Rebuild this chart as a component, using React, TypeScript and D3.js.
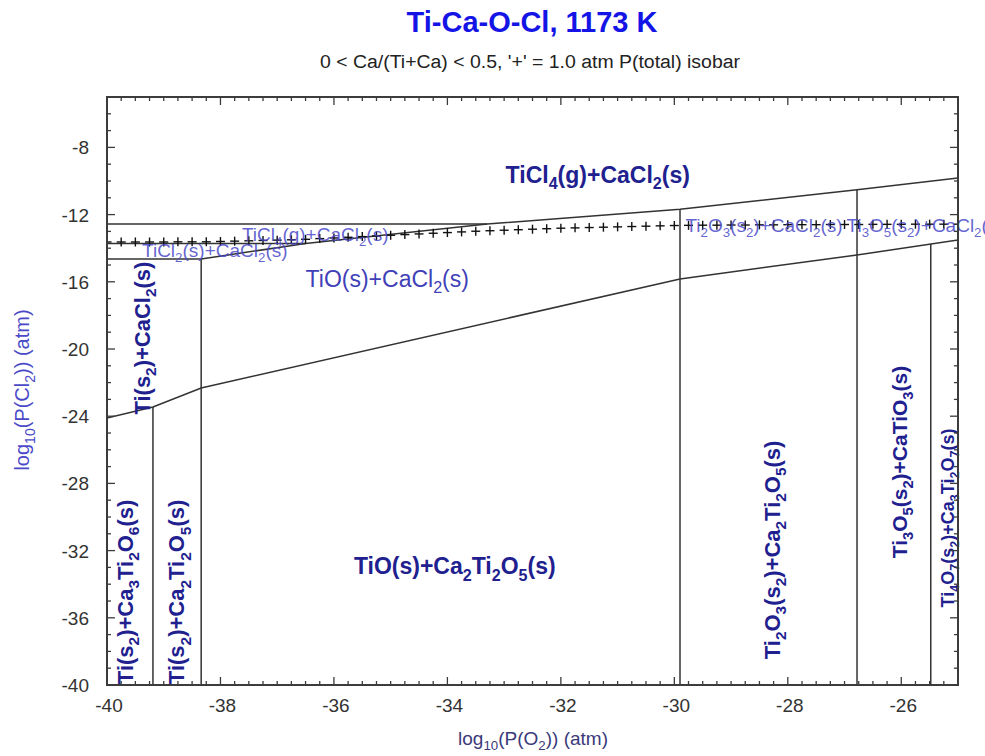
import React, { useEffect, useRef } from "react";
import * as d3 from "d3";

// axis ranges (log10 atm)
const X_RANGE = [-40, -25];
const Y_RANGE = [-40, -5];
const X_MAJOR = [-40, -38, -36, -34, -32, -30, -28, -26];
const Y_MAJOR = [-40, -36, -32, -28, -24, -20, -16, -12, -8];

// phase boundaries, [log P(O2), log P(Cl2)]
const topBoundary = [[-40, -12.56], [-33.3, -12.56], [-29.9, -11.68], [-26.78, -10.52], [-25, -9.82]];
const ticl2Ticl3 = [[-40, -13.72], [-36.5, -13.72]];
const tiTicl2 = [[-40, -14.64], [-38.34, -14.64]];
const chlorideSlope = [[-38.34, -14.64], [-36.5, -13.72], [-33.3, -12.56]];
const oxideBoundary = [[-40, -24.11], [-39.19, -23.45], [-38.34, -22.32], [-29.9, -15.83], [-26.78, -14.4], [-25, -13.51]];
const verticals = [
  [[-39.19, -23.45], [-39.19, -40]],
  [[-38.34, -14.64], [-38.34, -40]],
  [[-29.9, -11.68], [-29.9, -40]],
  [[-26.78, -10.52], [-26.78, -40]],
  [[-25.48, -13.75], [-25.48, -40]],
];

// '+' = 1.0 atm P(total) isobar
const isobar = [
  [-40, -13.63], [-39.75, -13.63], [-39.5, -13.63], [-39.25, -13.63], [-39, -13.63], [-38.75, -13.62], [-38.5, -13.62], [-38.25, -13.62],
  [-38, -13.6], [-37.75, -13.58], [-37.5, -13.56], [-37.25, -13.54], [-37, -13.52], [-36.75, -13.5], [-36.5, -13.47], [-36.25, -13.43],
  [-36, -13.39], [-35.75, -13.35], [-35.5, -13.31], [-35.25, -13.27], [-35, -13.23], [-34.75, -13.19], [-34.5, -13.15], [-34.25, -13.11],
  [-34, -13.07], [-33.75, -13.03], [-33.5, -12.99], [-33.25, -12.96], [-33, -12.93], [-32.75, -12.9], [-32.5, -12.87], [-32.25, -12.84],
  [-32, -12.81], [-31.75, -12.79], [-31.5, -12.77], [-31.25, -12.75], [-31, -12.73], [-30.75, -12.71], [-30.5, -12.69], [-30.25, -12.67],
  [-30, -12.65], [-29.75, -12.64], [-29.5, -12.63], [-29.25, -12.63], [-29, -12.62], [-28.75, -12.62], [-28.5, -12.61], [-28.25, -12.61],
  [-28, -12.6], [-27.75, -12.6], [-27.5, -12.6], [-27.25, -12.59], [-27, -12.59], [-26.75, -12.59], [-26.5, -12.58], [-26.25, -12.58],
  [-26, -12.58], [-25.75, -12.57], [-25.5, -12.57], [-25.25, -12.57], [-25, -12.57],
];

// region labels: text ({} = subscript), anchor point, kind
const regionLabels = [
  { text: "TiCl{4}(g)+CaCl{2}(s)", x: -31.35, y: -9.64, kind: "big" },
  { text: "TiCl{4}(g)+CaCl{2}(s)", x: -36.33, y: -13.15, kind: "small" },
  { text: "TiCl{2}(s)+CaCl{2}(s)", x: -38.1, y: -14.11, kind: "small" },
  { text: "TiO(s)+CaCl{2}(s)", x: -35.06, y: -15.83, kind: "mid" },
  { text: "Ti{2}O{3}(s{2})+CaCl{2}(s)", x: -28.42, y: -12.62, kind: "small" },
  { text: "Ti{3}O{5}(s{2})+CaCl{2}(s)", x: -25.58, y: -12.62, kind: "small" },
  { text: "TiO(s)+Ca{2}Ti{2}O{5}(s)", x: -33.87, y: -32.92, kind: "big" },
  { text: "Ti(s{2})+CaCl{2}(s)", x: -39.38, y: -19.35, kind: "vert" },
  { text: "Ti(s{2})+Ca{3}Ti{2}O{6}(s)", x: -39.68, y: -34.46, kind: "vert" },
  { text: "Ti(s{2})+Ca{2}Ti{2}O{5}(s)", x: -38.77, y: -34.46, kind: "vert" },
  { text: "Ti{2}O{3}(s{2})+Ca{2}Ti{2}O{5}(s)", x: -28.28, y: -31.96, kind: "vert" },
  { text: "Ti{3}O{5}(s{2})+CaTiO{3}(s)", x: -26.02, y: -26.73, kind: "vertMid" },
  { text: "Ti{4}O{7}(s{2})+Ca{3}Ti{2}O{7}(s)", x: -25.19, y: -30.06, kind: "vertSmall" },
];

const FONT = "'Liberation Sans', Arial, sans-serif";

const richText = (sel, str, fs) => {
  const parts = str.split(/(\{[^}]*\})/).filter((p) => p.length);
  let inSub = false;
  parts.forEach((p) => {
    if (p.startsWith("{")) {
      sel.append("tspan").attr("font-size", fs * 0.7).attr("dy", fs * 0.28).text(p.slice(1, -1));
      inSub = true;
    } else {
      sel.append("tspan").attr("font-size", fs).attr("dy", inSub ? -fs * 0.28 : 0).text(p);
      inSub = false;
    }
  });
};

const App = () => {
  const svgRef = useRef(null);

  useEffect(() => {
    const width = 985;
    const height = 756;
    const m = { left: 107, right: 958, top: 97, bottom: 685 };

    const svg = d3.select(svgRef.current);
    svg.selectAll("*").remove();
    svg.attr("width", width).attr("height", height);

    const x = d3.scaleLinear().domain(X_RANGE).range([m.left, m.right]);
    const y = d3.scaleLinear().domain(Y_RANGE).range([m.bottom, m.top]);

    svg.append("rect").attr("width", width).attr("height", height).attr("fill", "#fff");

    svg
      .append("clipPath")
      .attr("id", "plot-clip")
      .append("rect")
      .attr("x", m.left)
      .attr("y", m.top)
      .attr("width", m.right - m.left)
      .attr("height", m.bottom - m.top);

    const plot = svg.append("g").attr("clip-path", "url(#plot-clip)");

    const line = d3
      .line()
      .x((d) => x(d[0]))
      .y((d) => y(d[1]));

    const boundaries = [topBoundary, ticl2Ticl3, tiTicl2, chlorideSlope, oxideBoundary, ...verticals];
    plot
      .selectAll("path.boundary")
      .data(boundaries)
      .join("path")
      .attr("class", "boundary")
      .attr("d", line)
      .attr("fill", "none")
      .attr("stroke", "#333")
      .attr("stroke-width", 1.5);

    // isobar crosses
    const cross = plot
      .selectAll("g.cross")
      .data(isobar)
      .join("g")
      .attr("class", "cross")
      .attr("transform", (d) => `translate(${x(d[0])},${y(d[1])})`);
    cross.append("line").attr("x1", -4.5).attr("x2", 4.5).attr("stroke", "#111").attr("stroke-width", 1.4);
    cross.append("line").attr("y1", -4.5).attr("y2", 4.5).attr("stroke", "#111").attr("stroke-width", 1.4);

    // region labels
    const labelStyles = {
      big: { fs: 23, weight: "bold", color: "#20208f", opacity: 1 },
      mid: { fs: 23, weight: "normal", color: "#4040b8", opacity: 1 },
      small: { fs: 19, weight: "normal", color: "#4848c8", opacity: 0.85 },
      vert: { fs: 22, weight: "bold", color: "#20208f", opacity: 1 },
      vertMid: { fs: 21, weight: "bold", color: "#20208f", opacity: 1 },
      vertSmall: { fs: 18, weight: "bold", color: "#20208f", opacity: 1 },
    };
    regionLabels.forEach((d) => {
      const st = labelStyles[d.kind];
      const rotate = d.kind.startsWith("vert") ? " rotate(-90)" : "";
      const t = svg
        .append("text")
        .attr("transform", `translate(${x(d.x)},${y(d.y)})${rotate}`)
        .attr("y", st.fs * 0.35)
        .attr("text-anchor", "middle")
        .attr("font-family", FONT)
        .attr("font-weight", st.weight)
        .attr("fill", st.color)
        .attr("fill-opacity", st.opacity);
      richText(t, d.text, st.fs);
    });

    // frame
    svg
      .append("rect")
      .attr("x", m.left)
      .attr("y", m.top)
      .attr("width", m.right - m.left)
      .attr("height", m.bottom - m.top)
      .attr("fill", "none")
      .attr("stroke", "#3c3c3c")
      .attr("stroke-width", 2);

    // ticks on all four sides, pointing inward
    const axes = svg.append("g").attr("stroke", "#3c3c3c").attr("stroke-width", 1.3);
    const xMinor = d3.range(X_RANGE[0], X_RANGE[1] + 0.001, 0.25);
    const yMinor = d3.range(Y_RANGE[0], Y_RANGE[1] + 0.001, 1);
    xMinor.forEach((v) => {
      const len = X_MAJOR.includes(v) ? 8 : 4;
      axes.append("line").attr("x1", x(v)).attr("x2", x(v)).attr("y1", m.bottom).attr("y2", m.bottom - len);
      axes.append("line").attr("x1", x(v)).attr("x2", x(v)).attr("y1", m.top).attr("y2", m.top + len);
    });
    yMinor.forEach((v) => {
      const len = Y_MAJOR.includes(v) ? 8 : 4;
      axes.append("line").attr("y1", y(v)).attr("y2", y(v)).attr("x1", m.left).attr("x2", m.left + len);
      axes.append("line").attr("y1", y(v)).attr("y2", y(v)).attr("x1", m.right).attr("x2", m.right - len);
    });

    // tick labels
    svg
      .selectAll("text.xtick")
      .data(X_MAJOR)
      .join("text")
      .attr("class", "xtick")
      .attr("x", (d) => x(d) + 2)
      .attr("y", 712)
      .attr("text-anchor", "middle")
      .attr("font-family", FONT)
      .attr("font-size", 19)
      .attr("fill", "#333")
      .text((d) => d);

    svg
      .selectAll("text.ytick")
      .data(Y_MAJOR)
      .join("text")
      .attr("class", "ytick")
      .attr("x", 89)
      .attr("y", (d) => y(d) + 7)
      .attr("text-anchor", "end")
      .attr("font-family", FONT)
      .attr("font-size", 19)
      .attr("fill", "#333")
      .text((d) => d);

    // axis titles
    const xt = svg
      .append("text")
      .attr("x", 533)
      .attr("y", 745)
      .attr("text-anchor", "middle")
      .attr("font-family", FONT)
      .attr("fill", "#3a3a7a");
    richText(xt, "log{10}(P(O{2})) (atm)", 19);

    const yt = svg
      .append("text")
      .attr("transform", "translate(29,390) rotate(-90)")
      .attr("text-anchor", "middle")
      .attr("font-family", FONT)
      .attr("fill", "#4a4ac8");
    richText(yt, "log{10}(P(Cl{2})) (atm)", 20);

    // title
    svg
      .append("text")
      .attr("x", 532)
      .attr("y", 32)
      .attr("text-anchor", "middle")
      .attr("font-family", FONT)
      .attr("font-weight", "bold")
      .attr("font-size", 29)
      .attr("fill", "#1414e6")
      .text("Ti-Ca-O-Cl, 1173 K");

    svg
      .append("text")
      .attr("x", 530)
      .attr("y", 68)
      .attr("text-anchor", "middle")
      .attr("font-family", FONT)
      .attr("font-size", 18)
      .attr("textLength", 420)
      .attr("lengthAdjust", "spacingAndGlyphs")
      .attr("fill", "#222")
      .text("0 < Ca/(Ti+Ca) < 0.5, '+' = 1.0 atm P(total) isobar");
  }, []);

  return (
    <div style={{ position: "absolute", left: 0, top: 0, width: 985, height: 756 }}>
      <svg ref={svgRef} style={{ display: "block" }} />
    </div>
  );
};

export default App;
